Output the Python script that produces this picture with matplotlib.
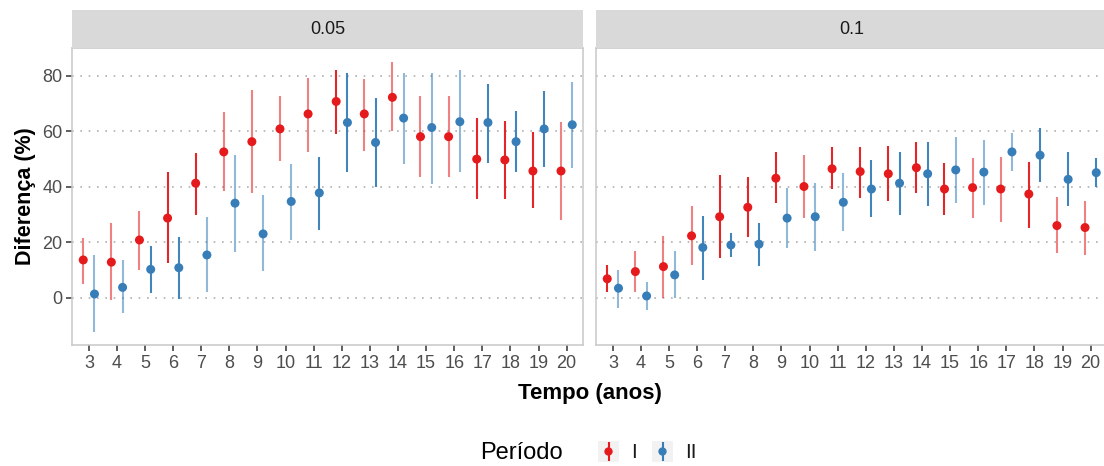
import numpy as np
import matplotlib
matplotlib.use("Agg")
import matplotlib.pyplot as plt

plt.rcParams['font.family'] = ['Liberation Sans', 'DejaVu Sans']

anos = list(range(3, 21))
paineis = ["0.05", "0.1"]
periodos = ["I", "II"]
cores = {"I": "#E41A1C", "II": "#377EB8"}

# painel 0.05
p05_I_est = [13.6, 12.8, 20.8, 28.7, 41.3, 52.6, 56.3, 60.9, 66.3, 70.8, 66.3, 72.3, 58.1, 58.1, 50.0, 49.7, 45.7, 45.7]
p05_I_lo = [4.8, -0.8, 9.8, 12.4, 29.9, 38.5, 37.7, 49.4, 52.7, 59.0, 53.1, 60.2, 43.7, 43.7, 35.6, 35.6, 32.3, 28.1]
p05_I_hi = [21.7, 26.9, 31.3, 45.3, 52.1, 67.0, 75.0, 72.6, 79.4, 82.0, 78.8, 85.0, 72.9, 72.9, 64.8, 63.9, 59.9, 63.5]
p05_I_sig = [0, 0, 0, 1, 1, 0, 0, 0, 0, 1, 0, 0, 0, 0, 1, 1, 1, 0]

p05_II_est = [1.3, 3.7, 10.2, 10.8, 15.4, 34.1, 23.0, 34.7, 37.8, 63.2, 56.0, 64.8, 61.4, 63.5, 63.2, 56.3, 60.9, 62.4]
p05_II_lo = [-12.3, -5.6, 1.8, -0.5, 1.9, 16.6, 9.6, 20.8, 24.4, 45.5, 40.1, 48.2, 40.9, 45.5, 48.7, 45.5, 47.3, 46.7]
p05_II_hi = [15.4, 13.6, 18.8, 21.8, 29.2, 51.3, 37.1, 48.3, 50.9, 81.0, 72.2, 81.2, 81.2, 82.0, 77.1, 67.5, 74.4, 77.8]
p05_II_sig = [0, 0, 1, 1, 0, 0, 0, 0, 1, 1, 1, 0, 0, 0, 1, 1, 1, 0]

# painel 0.1
p10_I_est = [6.8, 9.4, 11.2, 22.3, 29.2, 32.6, 43.1, 40.1, 46.5, 45.5, 44.7, 46.9, 39.2, 39.7, 39.2, 37.4, 26.0, 25.3]
p10_I_lo = [1.9, 1.9, -0.2, 11.8, 14.2, 22.0, 34.1, 28.9, 39.1, 35.9, 34.9, 37.7, 29.9, 28.7, 27.2, 25.3, 16.0, 15.4]
p10_I_hi = [11.6, 16.9, 22.3, 32.9, 44.3, 43.5, 52.5, 51.3, 54.2, 54.5, 54.8, 56.0, 48.5, 50.5, 50.9, 49.1, 36.5, 35.0]
p10_I_sig = [1, 0, 0, 0, 1, 1, 1, 0, 1, 1, 1, 1, 1, 0, 0, 1, 0, 0]

p10_II_est = [3.4, 0.6, 8.2, 18.1, 19.0, 19.3, 28.7, 29.2, 34.4, 39.2, 41.3, 44.7, 46.1, 45.3, 52.6, 51.4, 42.7, 45.1]
p10_II_lo = [-3.6, -4.4, 0.0, 6.4, 14.8, 11.4, 17.8, 17.0, 24.2, 29.0, 29.9, 32.9, 34.1, 33.5, 45.7, 41.9, 33.2, 39.9]
p10_II_hi = [10.0, 5.6, 16.9, 29.6, 23.2, 26.9, 39.5, 41.3, 44.9, 49.5, 52.7, 56.3, 58.1, 56.9, 59.6, 61.2, 52.5, 50.5]
p10_II_sig = [0, 0, 0, 1, 1, 1, 0, 0, 0, 1, 1, 1, 0, 0, 0, 1, 1, 1]

dados = {
    ("0.05", "I"): (p05_I_est, p05_I_lo, p05_I_hi, p05_I_sig),
    ("0.05", "II"): (p05_II_est, p05_II_lo, p05_II_hi, p05_II_sig),
    ("0.1", "I"): (p10_I_est, p10_I_lo, p10_I_hi, p10_I_sig),
    ("0.1", "II"): (p10_II_est, p10_II_lo, p10_II_hi, p10_II_sig),
}

W, H = 1104, 466
fig = plt.figure(figsize=(W / 100, H / 100), dpi=100)

def fx(px):
    return px / W

def fy(py):
    return 1 - py / H

borda = "#C8C8C8"
desloc = {"I": -0.2, "II": 0.2}
painel_x = [72, 596]
painel_w = 511.5

for i, painel in enumerate(paineis):
    x0 = painel_x[i]
    ax = fig.add_axes([fx(x0), fy(345), painel_w / W, (345 - 48) / H])
    strip = fig.add_axes([fx(x0), fy(48), painel_w / W, (48 - 10) / H])
    strip.set_facecolor("#D9D9D9")
    strip.set_xticks([])
    strip.set_yticks([])
    for s in strip.spines.values():
        s.set_visible(False)
    strip.text(0.5, 0.5, painel, ha="center", va="center", fontsize=13, color="#1A1A1A",
               transform=strip.transAxes)

    for per in periodos:
        est, lo, hi, sig = dados[(painel, per)]
        x = np.array(anos) + desloc[per]
        alphas = [0.95 if s else 0.55 for s in sig]
        cols = [matplotlib.colors.to_rgba(cores[per], a) for a in alphas]
        ax.vlines(x, lo, hi, colors=cols, linewidth=1.5, zorder=3)
        ax.scatter(x, est, s=42, color=cores[per], edgecolors="none", zorder=4)

    ax.set_xlim(2.4, 20.6)
    ax.set_ylim(-17.1, 90.1)
    ax.set_xticks(anos)
    ax.set_xticklabels([str(a) for a in anos])
    ax.set_yticks([0, 20, 40, 60, 80])
    ax.grid(axis="y", color="#B0B0B0", linestyle=(0, (1, 4)), linewidth=1.2, zorder=0)
    ax.set_axisbelow(True)
    for s in ax.spines.values():
        s.set_color(borda)
        s.set_linewidth(1.1)
    ax.tick_params(axis="both", direction="out", length=4, width=1.1, color="#333333",
                   labelsize=13, labelcolor="#4D4D4D", pad=3)
    if i == 0:
        ax.set_ylabel("Diferença (%)", fontsize=15.5, fontweight="bold", labelpad=4)
    else:
        ax.tick_params(axis="y", left=False, labelleft=False)

fig.text(fx(590), fy(393), "Tempo (anos)", ha="center", va="center", fontsize=16,
         fontweight="bold")

# legenda
fig.text(fx(480), fy(453), "Período", ha="left", va="center", fontsize=17)
chave_x = [598, 652]
for j, per in enumerate(periodos):
    k = fig.add_axes([fx(chave_x[j]), fy(462), 21 / W, 21 / H])
    k.set_facecolor("#F2F2F2")
    k.set_xlim(0, 1)
    k.set_ylim(0, 1)
    k.set_xticks([])
    k.set_yticks([])
    for s in k.spines.values():
        s.set_visible(False)
    k.vlines([0.5], [0.05], [0.95], colors=cores[per], linewidth=1.5)
    k.scatter([0.5], [0.5], s=36, color=cores[per], edgecolors="none")
    fig.text(fx(chave_x[j] + 33), fy(453), per, ha="left", va="center", fontsize=15,
             color="#1A1A1A")

fig.savefig("out.png", dpi=100)
